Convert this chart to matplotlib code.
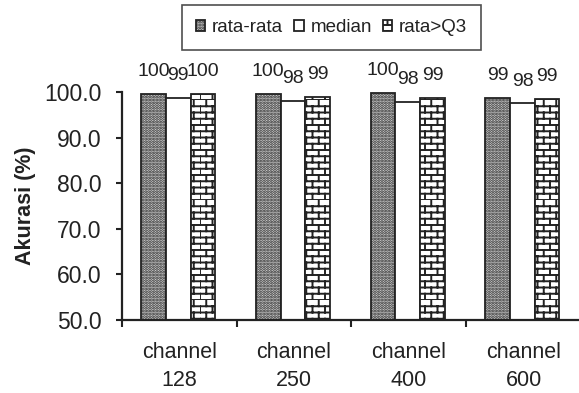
import warnings
warnings.filterwarnings('ignore')
import matplotlib
matplotlib.use('Agg')
import matplotlib.pyplot as plt
import matplotlib.hatch as mhatch
from matplotlib.path import Path
import numpy as np

# ---------------- data ----------------
categories = ['channel\n128', 'channel\n250', 'channel\n400', 'channel\n600']
series_names = ['rata-rata', 'median', 'rata>Q3']
rata_rata = [99.7, 99.7, 99.8, 98.7]
median = [98.8, 98.2, 98.0, 97.6]
rata_q3 = [99.7, 99.1, 98.7, 98.6]
yticks = [50, 60, 70, 80, 90, 100]


# ---------------- custom brick hatch ----------------
class BrickHatch(mhatch.HatchPatternBase):
    def __init__(self, hatch, density):
        self.rows = hatch.count('b') * 16
        self.cols = 8
        self.num_vertices = self.rows * 2 + self.rows * self.cols * 2

    def set_vertices_and_codes(self, vertices, codes):
        h = 1.0 / self.rows
        k = 0
        for i in range(self.rows):
            y0 = i * h
            vertices[k] = (0.0, y0); codes[k] = Path.MOVETO; k += 1
            vertices[k] = (1.0, y0); codes[k] = Path.LINETO; k += 1
            for j in range(self.cols):
                xx = (j + 0.5 * (i % 2)) / self.cols
                vertices[k] = (xx, y0); codes[k] = Path.MOVETO; k += 1
                vertices[k] = (xx, y0 + h); codes[k] = Path.LINETO; k += 1


mhatch._hatch_types.append(BrickHatch)

plt.rcParams['font.family'] = ['Liberation Sans', 'DejaVu Sans']
plt.rcParams['hatch.linewidth'] = 1.4

fig = plt.figure(figsize=(5.79, 3.93), dpi=100)
ax = fig.add_axes([0.2107, 0.1858, 0.7927, 0.5789])

x = np.arange(len(categories)) + 0.49
w = 0.215
styles = [
    dict(facecolor='#d8d8d8', hatch='......', edgecolor='#222222'),
    dict(facecolor='white', hatch='', edgecolor='#222222'),
    dict(facecolor='white', hatch='b', edgecolor='#222222'),
]
all_vals = [rata_rata, median, rata_q3]
for k, (vals, name, st) in enumerate(zip(all_vals, series_names, styles)):
    bars = ax.bar(x + (k - 1) * w, vals, w, label=name, linewidth=1.3, **st)
    ax.bar_label(bars, labels=[f'{v:.0f}' for v in vals], padding=10,
                 fontsize=14, color='#222222')

ax.set_ylim(50, 100)
ax.set_xlim(0, 4)
ax.set_yticks(yticks)
ax.set_yticklabels([f'{v:.1f}' for v in yticks], fontsize=16.5, color='#222222')
ax.set_xticks([0, 1, 2, 3])
ax.set_xticklabels([])
ax.set_xticks(np.arange(len(categories)) + 0.5, minor=True)
ax.set_xticklabels(categories, minor=True, fontsize=15.5, color='#222222',
                   linespacing=1.4)
ax.tick_params(axis='x', which='major', length=5, width=1.5, direction='out',
               color='#222222')
ax.tick_params(axis='x', which='minor', length=0, pad=16)
ax.tick_params(axis='y', length=4.5, width=1.5, direction='out', pad=10,
               color='#222222')

for s in ['top', 'right']:
    ax.spines[s].set_visible(False)
for s in ['left', 'bottom']:
    ax.spines[s].set_linewidth(1.6)
    ax.spines[s].set_color('#222222')

ax.set_ylabel('Akurasi (%)', fontsize=15.5, fontweight='bold', color='#222222',
              labelpad=6)

leg = fig.legend(loc='upper left', bbox_to_anchor=(182 / 579, 1 - 5 / 393),
                 ncol=3, fontsize=13.5, frameon=True, fancybox=False,
                 edgecolor='#222222', handlelength=0.5, handleheight=0.5,
                 handletextpad=0.35, columnspacing=0.6, borderpad=0.75,
                 borderaxespad=0)
leg.get_frame().set_linewidth(1.2)
for t in leg.get_texts():
    t.set_color('#222222')

fig.savefig('out.png', dpi=100)
